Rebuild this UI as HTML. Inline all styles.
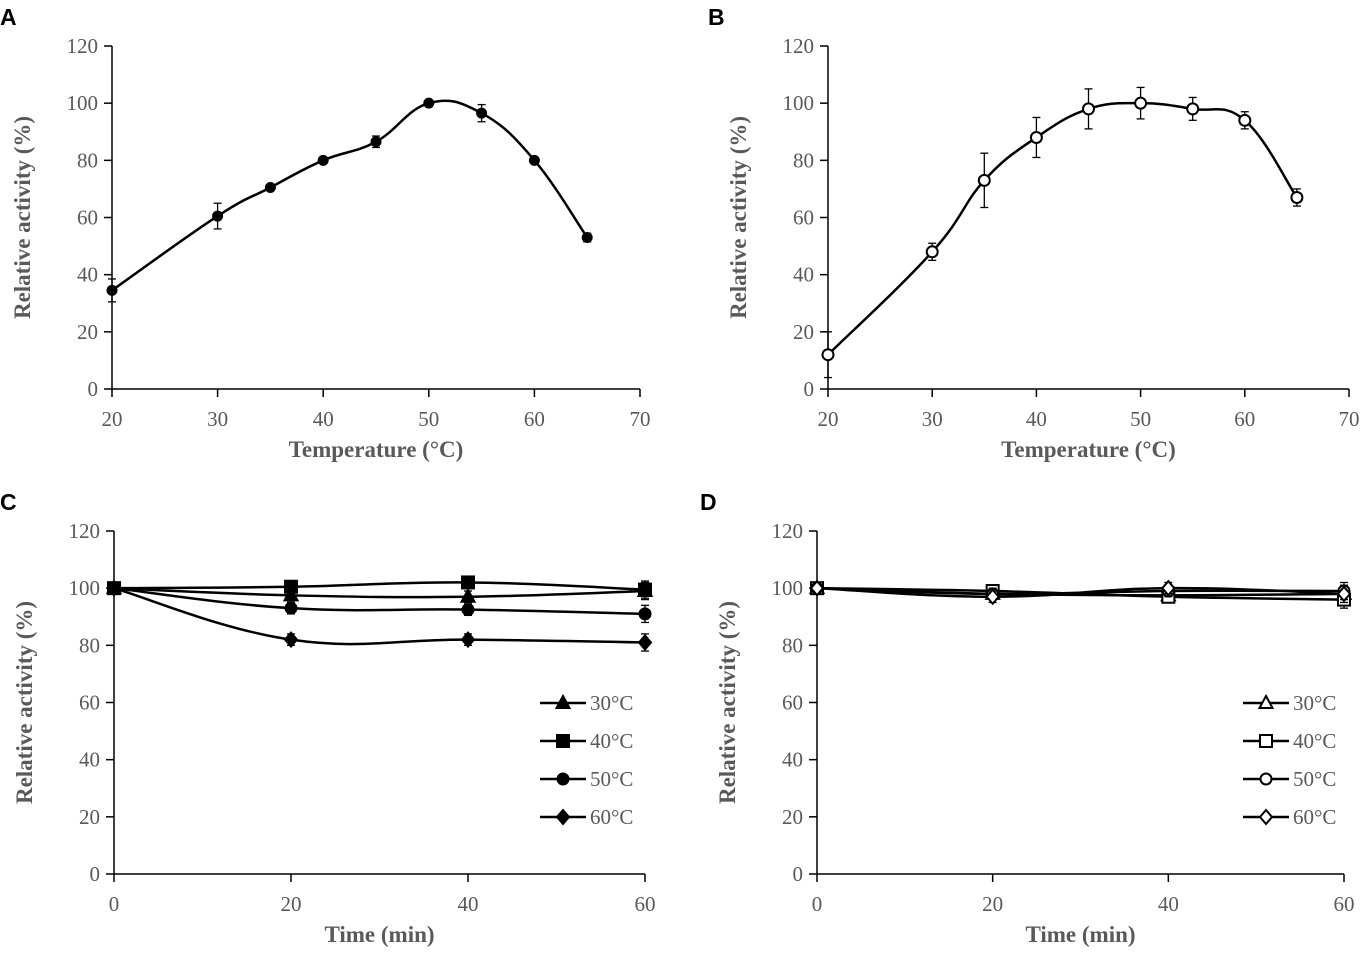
<!DOCTYPE html>
<html><head><meta charset="utf-8"><style>
body{margin:0;background:#fff;}
svg text{font-family:"Liberation Serif",serif;}
.tick{font-size:21px;fill:#595959;}
.title{font-size:23px;font-weight:bold;fill:#595959;}
.letter{font-family:"Liberation Sans",sans-serif !important;font-size:23px;font-weight:bold;fill:#000;}
</style></head><body>
<svg id="chart" width="1369" height="951" xmlns="http://www.w3.org/2000/svg"></svg>
<script>
const tempX = [20,30,35,40,45,50,55,60,65];
const seriesA = [34.5,60.5,70.5,80,86.5,100,96.5,80,53];
const errA = [4,4.5,1,1,2,1,3,1,1.5];
const seriesB = [12,48,73,88,98,100,98,94,67];
const errB = [8,3,9.5,7,7,5.5,4,3,3];
const timeX = [0,20,40,60];
const c30 = [100,97.5,97,99];
const c40 = [100,100.5,102,99.5];
const c50 = [100,93,92.5,91];
const c60 = [100,82,82,81];
const cErr = [0,2,2,3];
const d30 = [100,98,97.5,98];
const d40 = [100,99,97,96];
const d50 = [100,98,99,99];
const d60 = [100,97,100,98];
const dErr = [0,2,2,3];
const yTicks = [0,20,40,60,80,100,120];
const tempTicks = [20,30,40,50,60,70];
const timeTicks = [0,20,40,60];
const legendLabels = ["30°C","40°C","50°C","60°C"];

const NS="http://www.w3.org/2000/svg";
const svg=document.getElementById('chart');
function el(tag,attrs,parent){const e=document.createElementNS(NS,tag);for(const k in attrs)e.setAttribute(k,attrs[k]);(parent||svg).appendChild(e);return e;}

function smoothPath(pts){
  let d=`M${pts[0][0]},${pts[0][1]}`;
  for(let i=0;i<pts.length-1;i++){
    const p0=pts[i-1]||pts[i],p1=pts[i],p2=pts[i+1],p3=pts[i+2]||p2;
    const t=0.2;
    const c1=[p1[0]+(p2[0]-p0[0])*t,p1[1]+(p2[1]-p0[1])*t];
    const c2=[p2[0]-(p3[0]-p1[0])*t,p2[1]-(p3[1]-p1[1])*t];
    d+=` C${c1[0]},${c1[1]} ${c2[0]},${c2[1]} ${p2[0]},${p2[1]}`;
  }
  return d;
}
function marker(g,type,x,y,fill,r){
  let m;
  if(type==='circle') m=el('circle',{cx:x,cy:y,r:r||5.5,fill:fill,stroke:'#000','stroke-width':2},g);
  else if(type==='square') m=el('rect',{x:x-6,y:y-6,width:12,height:12,fill:fill,stroke:'#000','stroke-width':2},g);
  else if(type==='tri') m=el('polygon',{points:`${x},${y-7} ${x+6.5},${y+5} ${x-6.5},${y+5}`,fill:fill,stroke:'#000','stroke-width':2},g);
  else m=el('polygon',{points:`${x},${y-7} ${x+6},${y} ${x},${y+7} ${x-6},${y}`,fill:fill,stroke:'#000','stroke-width':2},g);
  
  
  return m;
}
function panel(cfg){
  const g=el('g',{});
  
  
  const sx=v=>cfg.x0+(v-cfg.xmin)/(cfg.xmax-cfg.xmin)*(cfg.x1-cfg.x0);
  const sy=v=>cfg.y0-v/120*(cfg.y0-cfg.y1);
  const L=el('text',{x:cfg.lx,y:cfg.ly,class:'letter'},g);L.textContent=cfg.letter;
  
  const ya=el('line',{x1:cfg.x0,y1:cfg.y0,x2:cfg.x0,y2:cfg.y1,stroke:'#000','stroke-width':1.5},g);
  
  const xa=el('line',{x1:cfg.x0,y1:cfg.y0,x2:cfg.x1,y2:cfg.y0,stroke:'#000','stroke-width':1.5},g);
  
  yTicks.forEach(v=>{
    el('line',{x1:cfg.x0-8,y1:sy(v),x2:cfg.x0,y2:sy(v),stroke:'#000','stroke-width':1.5},g);
    const t=el('text',{x:cfg.x0-14,y:sy(v)+7,class:'tick','text-anchor':'end'},g);t.textContent=v;
    
  });
  cfg.xticks.forEach(v=>{
    el('line',{x1:sx(v),y1:cfg.y0,x2:sx(v),y2:cfg.y0+8,stroke:'#000','stroke-width':1.5},g);
    const t=el('text',{x:sx(v),y:cfg.y0+37,class:'tick','text-anchor':'middle'},g);t.textContent=v;
    
  });
  const xt=el('text',{x:(cfg.x0+cfg.x1)/2,y:cfg.y0+68,class:'title','text-anchor':'middle'},g);xt.textContent=cfg.xtitle;
  
  const cy=(cfg.y0+cfg.y1)/2;
  const yt=el('text',{x:cfg.x0-82,y:cy,class:'title','text-anchor':'middle',transform:`rotate(-90 ${cfg.x0-82} ${cy})`},g);yt.textContent='Relative activity (%)';
  
  cfg.series.forEach((s,si)=>{
    const pts=cfg.xs.map((x,i)=>[sx(x),sy(s.vals[i])]);
    const p=el('path',{d:smoothPath(pts),fill:'none',stroke:'#000','stroke-width':2.5},g);
    
    pts.forEach((pt,i)=>{
      const e=s.err[i]*(cfg.y0-cfg.y1)/120;
      if(e>0){
        el('line',{x1:pt[0],y1:pt[1]-e,x2:pt[0],y2:pt[1]+e,stroke:'#000','stroke-width':1.3},g);
        el('line',{x1:pt[0]-4,y1:pt[1]-e,x2:pt[0]+4,y2:pt[1]-e,stroke:'#000','stroke-width':1.3},g);
        el('line',{x1:pt[0]-4,y1:pt[1]+e,x2:pt[0]+4,y2:pt[1]+e,stroke:'#000','stroke-width':1.3},g);
      }
      marker(g,s.m,pt[0],pt[1],cfg.fill,cfg.r);
    });
  });
  if(cfg.legend){
    cfg.series.forEach((s,i)=>{
      const y=cfg.legend.y+i*38;
      const lg=el('g',{},g);
      
      el('line',{x1:cfg.legend.x,y1:y,x2:cfg.legend.x+46,y2:y,stroke:'#000','stroke-width':2.5},lg);
      marker(lg,s.m,cfg.legend.x+23,y,cfg.fill);
      const t=el('text',{x:cfg.legend.x+50,y:y+7,class:'tick'},lg);t.textContent=legendLabels[i];
    });
  }
}
panel({name:'panel-a',letter:'A',lx:0,ly:25,x0:112,x1:640,y0:389,y1:46,xmin:20,xmax:70,xticks:tempTicks,xs:tempX,xtitle:'Temperature (°C)',fill:'#000',r:4.5,
  series:[{vals:seriesA,err:errA,m:'circle'}]});
panel({name:'panel-b',letter:'B',lx:708,ly:25,x0:828,x1:1349,y0:389,y1:46,xmin:20,xmax:70,xticks:tempTicks,xs:tempX,xtitle:'Temperature (°C)',fill:'#fff',
  series:[{vals:seriesB,err:errB,m:'circle'}]});
panel({name:'panel-c',letter:'C',lx:0,ly:510,x0:114,x1:645,y0:874,y1:531,xmin:0,xmax:60,xticks:timeTicks,xs:timeX,xtitle:'Time (min)',fill:'#000',
  legend:{x:540,y:703},
  series:[{vals:c30,err:cErr,m:'tri'},{vals:c40,err:cErr,m:'square'},{vals:c50,err:cErr,m:'circle'},{vals:c60,err:cErr,m:'diamond'}]});
panel({name:'panel-d',letter:'D',lx:700,ly:510,x0:817,x1:1344,y0:874,y1:531,xmin:0,xmax:60,xticks:timeTicks,xs:timeX,xtitle:'Time (min)',fill:'#fff',
  legend:{x:1243,y:703},
  series:[{vals:d30,err:dErr,m:'tri'},{vals:d40,err:dErr,m:'square'},{vals:d50,err:dErr,m:'circle'},{vals:d60,err:dErr,m:'diamond'}]});
</script>
</body></html>
